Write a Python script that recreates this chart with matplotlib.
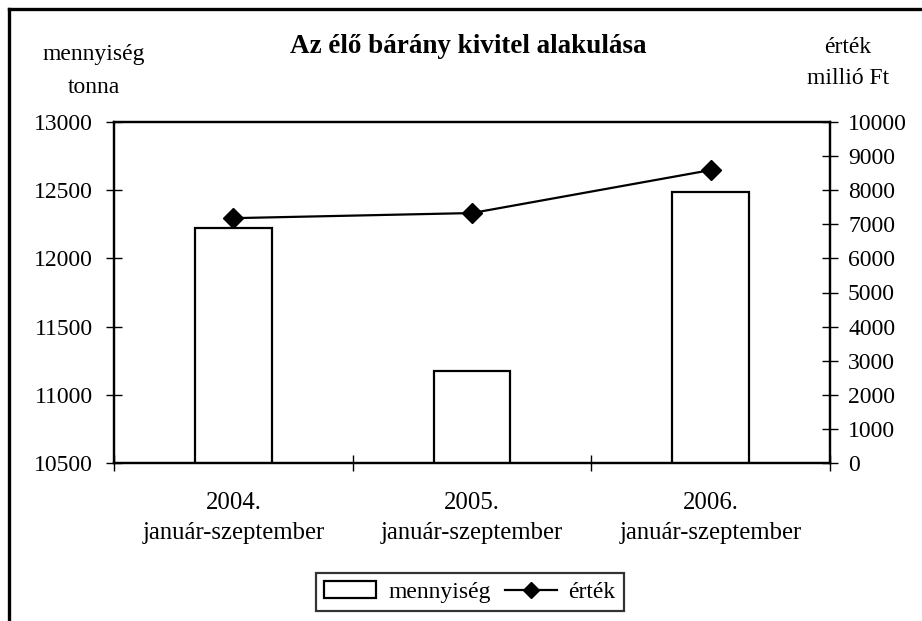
import matplotlib
matplotlib.use("Agg")
from matplotlib import pyplot as plt
from matplotlib.lines import Line2D
from matplotlib.patches import Patch

categories = ["2004.\njanuár-szeptember", "2005.\njanuár-szeptember", "2006.\njanuár-szeptember"]
mennyiseg = [12222, 11175, 12487]   # tonna
ertek = [7180, 7330, 8590]          # millió Ft

plt.rcParams['font.family'] = ['Liberation Serif', 'DejaVu Serif']
plt.rcParams['font.size'] = 17

fig = plt.figure(figsize=(9.22, 6.21), dpi=100)
ax = fig.add_axes([114/922, 1 - 463/621, (830-114)/922, (463-122)/621])
ax2 = ax.twinx()

x = list(range(len(categories)))
ax.bar(x, mennyiseg, 0.32, color="white", edgecolor="black", linewidth=1.6, zorder=2)
ax2.plot(x, ertek, color="black", linewidth=1.6, marker="D", markersize=10, zorder=3)

ax.set_xlim(-0.5, 2.5)
ax.set_ylim(10500, 13000)
ax2.set_ylim(0, 10000)
ax.set_yticks(range(10500, 13001, 500))
ax2.set_yticks(range(0, 10001, 1000))

# category boundaries get the tick marks, labels sit in between
ax.set_xticks([-0.5, 0.5, 1.5, 2.5])
ax.set_xticklabels([])
ax.set_xticks(x, minor=True)
ax.set_xticklabels(categories, minor=True, linespacing=1.45, fontsize=17.8)
ax.tick_params(axis="x", which="minor", length=0, pad=21)
ax.tick_params(axis="x", which="major", direction="inout", length=12, width=1)
ax.tick_params(axis="y", direction="inout", length=12, width=1, pad=9)
ax2.tick_params(axis="y", direction="inout", length=12, width=1, pad=7)

for a in (ax, ax2):
    for s in a.spines.values():
        s.set_linewidth(1.6)

fig.text(290/922, 1 - 53/621, "Az élő bárány kivitel alakulása", fontsize=19.5,
         fontweight="bold", va="baseline", ha="left")
fig.text(94/922, 1 - 60/621, "mennyiség", ha="center", va="baseline")
fig.text(94/922, 1 - 93/621, "tonna", ha="center", va="baseline")
fig.text(848/922, 1 - 53/621, "érték", ha="center", va="baseline")
fig.text(848/922, 1 - 84/621, "millió Ft", ha="center", va="baseline")

# outer chart frame (cut at the right and bottom in the original)
fig.add_artist(Line2D([9/922, 9/922], [0, 1 - 9/621], color="black", linewidth=2.4))
fig.add_artist(Line2D([9/922, 1], [1 - 9/621, 1 - 9/621], color="black", linewidth=2.4))

handles = [Patch(facecolor="white", edgecolor="black", linewidth=1.6, label="mennyiség"),
           Line2D([], [], color="black", linewidth=1.6, marker="D", markersize=8, label="érték")]
leg = fig.legend(handles=handles, loc="center", bbox_to_anchor=(470/922, 1 - 592/621),
                 ncol=2, frameon=True, fancybox=False, edgecolor="black",
                 handlelength=2.2, columnspacing=0.6, handletextpad=0.5,
                 borderpad=0.35)
leg.get_frame().set_linewidth(1.6)

fig.savefig("out.png", dpi=100)
